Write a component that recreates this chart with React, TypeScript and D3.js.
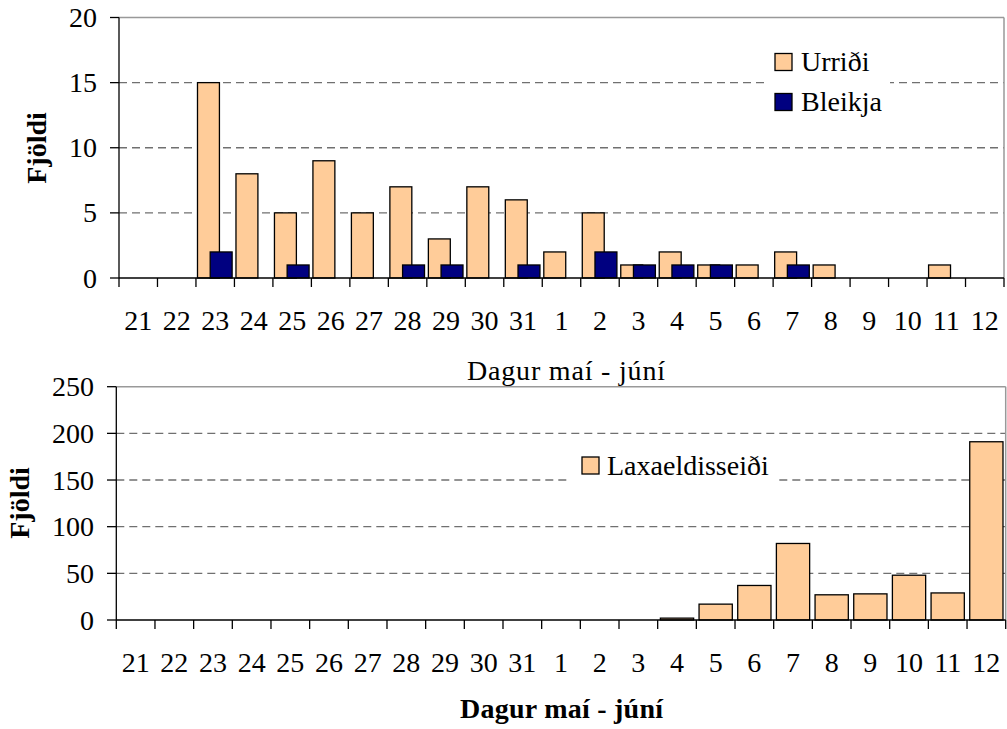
import React from "react";
import * as d3 from "d3";

const days = ["21","22","23","24","25","26","27","28","29","30","31","1","2","3","4","5","6","7","8","9","10","11","12"];
const urridi = [0,0,15,8,5,9,5,7,3,7,6,2,5,1,2,1,1,2,1,0,0,1,0];
const bleikja = [0,0,2,0,1,0,0,1,1,0,1,0,2,1,1,1,0,1,0,0,0,0,0];
const laxaeldisseidi = [0,0,0,0,0,0,0,0,0,0,0,0,0,0,2,17,37,82,27,28,48,29,191];
const topTicks = [0,5,10,15,20];
const bottomTicks = [0,50,100,150,200,250];

const PEACH = "#FFCC99";
const NAVY = "#000080";
const FS = 28;
const TS = { fontFamily: "Liberation Serif" };

export default function App() {
  const tx = d3.scaleBand<string>().domain(days).range([119, 1004]).padding(0);
  const ty = d3.scaleLinear().domain([0, 20]).range([278, 17.5]);
  const tbw = tx.bandwidth();

  const bx = d3.scaleBand<string>().domain(days).range([116.3, 1005.7]).padding(0);
  const by = d3.scaleLinear().domain([0, 250]).range([620, 386.7]);
  const bbw = bx.bandwidth();

  return (
    <svg width={1007} height={729} style={{ position: "absolute", left: 0, top: 0 }}>
      <rect x={0} y={0} width={1007} height={729} fill="white" />

      {/* ---------- TOP CHART ---------- */}
      {topTicks.filter(t => t > 0 && t < 20).map(t => (
        <line key={"tg" + t} x1={119} x2={1004} y1={ty(t)} y2={ty(t)} stroke="#707070" strokeWidth={1.3} strokeDasharray="8,5" />
      ))}
      <line x1={119} x2={1004} y1={ty(20)} y2={ty(20)} stroke="#999" strokeWidth={1.5} />
      <line x1={1004} x2={1004} y1={ty(20)} y2={ty(0)} stroke="#999" strokeWidth={1.5} />

      <rect x={767} y={40} width={123} height={85} fill="white" />

      {days.map((d, i) => urridi[i] > 0 ? (
        <rect key={"u" + d} x={tx(d)! + tbw * 0.04} y={ty(urridi[i])} width={tbw * 0.57} height={ty(0) - ty(urridi[i])} fill={PEACH} stroke="black" strokeWidth={1.3} />
      ) : null)}
      {days.map((d, i) => bleikja[i] > 0 ? (
        <rect key={"b" + d} x={tx(d)! + tbw * 0.37} y={ty(bleikja[i])} width={tbw * 0.57} height={ty(0) - ty(bleikja[i])} fill={NAVY} stroke="black" strokeWidth={1.3} />
      ) : null)}

      <line x1={119} x2={119} y1={ty(20)} y2={ty(0)} stroke="black" strokeWidth={1.3} />
      <line x1={119} x2={1004} y1={ty(0)} y2={ty(0)} stroke="black" strokeWidth={1.3} />
      {topTicks.map(t => (
        <g key={"tt" + t}>
          <line x1={110} x2={119} y1={ty(t)} y2={ty(t)} stroke="black" strokeWidth={1.3} />
          <text x={97} y={ty(t)} dy="0.34em" textAnchor="end" fontSize={FS} style={TS}>{t}</text>
        </g>
      ))}
      {[...days, "end"].map((d, i) => {
        const x = 119 + i * tbw;
        return <line key={"tx" + i} x1={x} x2={x} y1={ty(0)} y2={ty(0) + 9} stroke="black" strokeWidth={1.3} />;
      })}
      {days.map(d => (
        <text key={"tl" + d} x={tx(d)! + tbw / 2} y={330} textAnchor="middle" fontSize={FS} style={TS}>{d}</text>
      ))}
      <text transform={`translate(46,148) rotate(-90)`} textAnchor="middle" fontSize={FS} fontWeight="bold" style={TS}>Fjöldi</text>

      <rect x={775} y={53.5} width={17} height={17} fill={PEACH} stroke="black" strokeWidth={1.3} />
      <text x={801} y={71} fontSize={FS} style={TS}>Urriði</text>
      <rect x={775} y={93.5} width={17} height={17} fill={NAVY} stroke="black" strokeWidth={1.3} />
      <text x={801} y={111} fontSize={FS} style={TS}>Bleikja</text>

      {/* ---------- BOTTOM CHART ---------- */}
      <text x={467} y={380} fontSize={FS} style={TS} textLength={198} lengthAdjust="spacing">Dagur maí - júní</text>
      {bottomTicks.filter(t => t > 0 && t < 250).map(t => (
        <line key={"bg" + t} x1={116.3} x2={1005.7} y1={by(t)} y2={by(t)} stroke="#707070" strokeWidth={1.3} strokeDasharray="8,5" />
      ))}
      <line x1={116.3} x2={1005.7} y1={by(250)} y2={by(250)} stroke="#999" strokeWidth={1.5} />
      <line x1={1005.7} x2={1005.7} y1={by(250)} y2={by(0)} stroke="#999" strokeWidth={1.5} />

      <rect x={571} y={445} width={206} height={55} fill="white" />

      {days.map((d, i) => laxaeldisseidi[i] > 0 ? (
        <rect key={"l" + d} x={bx(d)! + bbw * 0.07} y={by(laxaeldisseidi[i])} width={bbw * 0.86} height={by(0) - by(laxaeldisseidi[i])} fill={PEACH} stroke="black" strokeWidth={1.3} />
      ) : null)}

      <line x1={116.3} x2={116.3} y1={by(250)} y2={by(0)} stroke="black" strokeWidth={1.3} />
      <line x1={116.3} x2={1005.7} y1={by(0)} y2={by(0)} stroke="black" strokeWidth={1.3} />
      {bottomTicks.map(t => (
        <g key={"bt" + t}>
          <line x1={107} x2={116.3} y1={by(t)} y2={by(t)} stroke="black" strokeWidth={1.3} />
          <text x={94} y={by(t)} dy="0.34em" textAnchor="end" fontSize={FS} style={TS}>{t}</text>
        </g>
      ))}
      {[...days, "end"].map((d, i) => {
        const x = 116.3 + i * bbw;
        return <line key={"bx" + i} x1={x} x2={x} y1={by(0)} y2={by(0) + 9} stroke="black" strokeWidth={1.3} />;
      })}
      {days.map(d => (
        <text key={"bl" + d} x={bx(d)! + bbw / 2} y={672} textAnchor="middle" fontSize={FS} style={TS}>{d}</text>
      ))}
      <text transform={`translate(29,503) rotate(-90)`} textAnchor="middle" fontSize={FS} fontWeight="bold" style={TS}>Fjöldi</text>
      <text x={460} y={718} fontSize={FS} fontWeight="bold" style={TS} textLength={203} lengthAdjust="spacing">Dagur maí - júní</text>

      <rect x={582} y={457} width={17} height={17} fill={PEACH} stroke="black" strokeWidth={1.3} />
      <text x={607} y={475} fontSize={FS} style={TS}>Laxaeldisseiði</text>
    </svg>
  );
}
